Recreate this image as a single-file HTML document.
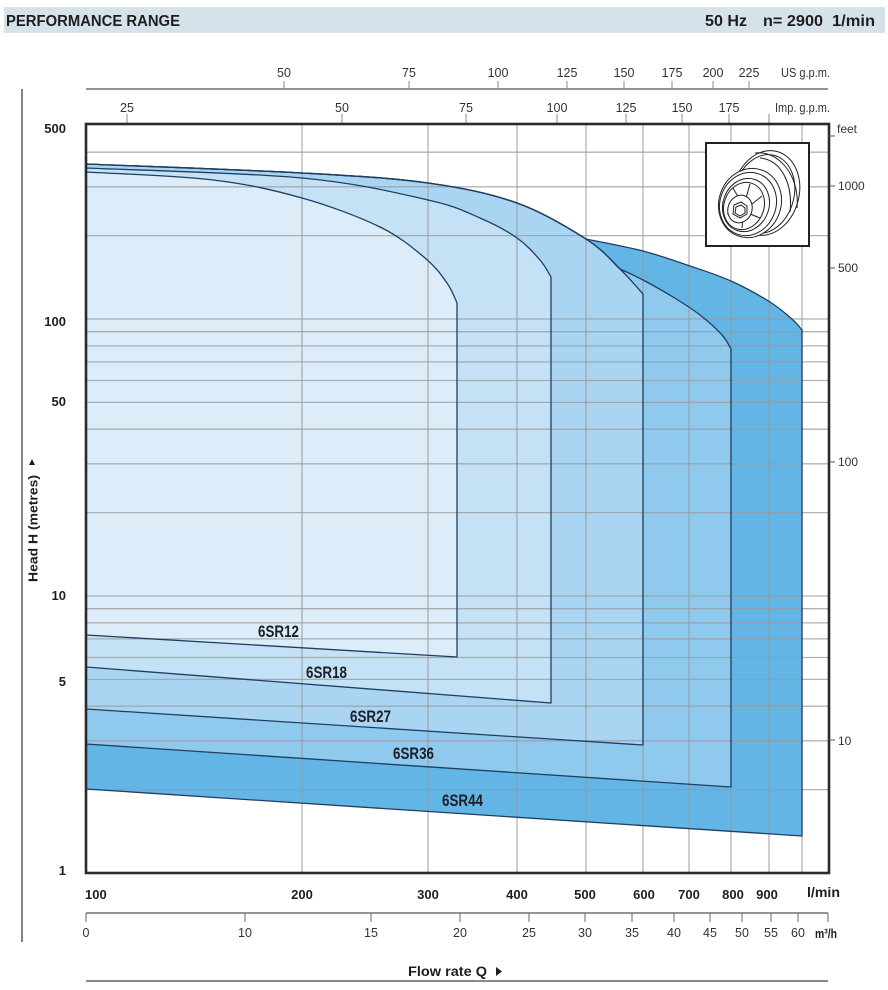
<!DOCTYPE html>
<html><head><meta charset="utf-8"><style>
html,body{margin:0;padding:0;background:#fff;}
svg{display:block;font-family:"Liberation Sans",Arial,sans-serif;}
</style></head><body>
<svg width="888" height="990" viewBox="0 0 888 990" xmlns="http://www.w3.org/2000/svg">
<defs>
<path id="p44" d="M86,164 C122,165.5 245,169.8 302,173 C359,176.2 392.2,178 428,183 C463.8,188 490.7,193.7 517,203 C543.3,212.3 568.8,228 586,239 C595.5,241 625.7,246.5 643,251 C660.3,255.5 675.3,261 690,266 C704.7,271 717.7,275 731,281 C744.3,287 759.7,295.5 770,302 C780.3,308.5 787.7,315.3 793,320 C798.3,324.7 800.5,328.3 802,330 L802,836 L86,789 Z"/>
<path id="p36" d="M86,164 C122,165.5 245,169.8 302,173 C359,176.2 392.2,178 428,183 C463.8,188 490.7,193.7 517,203 C543.3,212.3 568.8,228 586,239 C603.2,250 610.5,259.8 620,269 C623.8,270.8 634.2,275.3 643,280 C651.8,284.7 663.5,291.2 673,297 C682.5,302.8 691.8,308.7 700,315 C708.2,321.3 716.8,329.3 722,335 C727.2,340.7 729.5,346.7 731,349 L731,787 L86,744 Z"/>
<path id="p27" d="M86,164 C122,165.5 245,169.8 302,173 C359,176.2 392.2,178 428,183 C463.8,188 490.7,193.7 517,203 C543.3,212.3 568.8,228 586,239 C603.2,250 610.5,259.8 620,269 C629.5,278.2 639.2,289.8 643,294 L643,745 L86,709 Z"/>
<path id="p18" d="M86,168 C122,169.7 245,172.7 302,178 C359,183.3 398.3,193.3 428,200 C457.7,206.7 465.2,211.7 480,218 C494.8,224.3 507,231 517,238 C527,245 534.3,253.5 540,260 C545.7,266.5 549.2,274.2 551,277 L551,703 L86,667 Z"/>
<path id="p12" d="M86,172 C107.2,173.3 177,175.7 213,180 C249,184.3 274.2,190.2 302,198 C329.8,205.8 359.5,217 380,227 C400.5,237 413.8,248.7 425,258 C436.2,267.3 441.7,275.5 447,283 C452.3,290.5 455.5,299.7 457,303 L457,657 L86,635 Z"/>
</defs>

<rect width="888" height="990" fill="#fff"/>

<!-- header -->
<rect x="4" y="7" width="881" height="26" fill="#d5e2ea"/>
<g fill="#1e1e1e" font-weight="bold" font-size="15.5">
<text x="6" y="26" textLength="174" lengthAdjust="spacingAndGlyphs">PERFORMANCE RANGE</text>
<text x="705" y="26" textLength="42" lengthAdjust="spacingAndGlyphs">50 Hz</text>
<text x="763" y="26" textLength="60" lengthAdjust="spacingAndGlyphs">n= 2900</text>
<text x="832" y="26" textLength="43" lengthAdjust="spacingAndGlyphs">1/min</text>
</g>

<!-- left long line -->
<line x1="22" y1="89" x2="22" y2="942" stroke="#333" stroke-width="1.2"/>

<!-- US gpm axis -->
<line x1="86" y1="89" x2="828" y2="89" stroke="#555" stroke-width="1.3"/>
<g stroke="#888" stroke-width="1">
<line x1="284" y1="81" x2="284" y2="89"/><line x1="409" y1="81" x2="409" y2="89"/>
<line x1="498" y1="81" x2="498" y2="89"/><line x1="567" y1="81" x2="567" y2="89"/>
<line x1="624" y1="81" x2="624" y2="89"/><line x1="672" y1="81" x2="672" y2="89"/>
<line x1="713" y1="81" x2="713" y2="89"/><line x1="749" y1="81" x2="749" y2="89"/>
</g>
<g fill="#333" font-size="12.5" text-anchor="middle">
<text x="284" y="77">50</text><text x="409" y="77">75</text><text x="498" y="77">100</text>
<text x="567" y="77">125</text><text x="624" y="77">150</text><text x="672" y="77">175</text>
<text x="713" y="77">200</text><text x="749" y="77">225</text>
</g>
<text x="781" y="77" font-size="12.5" fill="#333" textLength="49" lengthAdjust="spacingAndGlyphs">US g.p.m.</text>

<!-- Imp gpm axis -->
<g stroke="#888" stroke-width="1">
<line x1="127" y1="114" x2="127" y2="124"/><line x1="342" y1="114" x2="342" y2="124"/>
<line x1="466" y1="114" x2="466" y2="124"/><line x1="557" y1="114" x2="557" y2="124"/>
<line x1="626" y1="114" x2="626" y2="124"/><line x1="682" y1="114" x2="682" y2="124"/>
<line x1="729" y1="114" x2="729" y2="124"/><line x1="769" y1="114" x2="769" y2="124"/>
</g>
<g fill="#333" font-size="12.5" text-anchor="middle">
<text x="127" y="112">25</text><text x="342" y="112">50</text><text x="466" y="112">75</text>
<text x="557" y="112">100</text><text x="626" y="112">125</text><text x="682" y="112">150</text>
<text x="729" y="112">175</text>
</g>
<text x="775" y="112" font-size="12.5" fill="#333" textLength="55" lengthAdjust="spacingAndGlyphs">Imp. g.p.m.</text>

<!-- fills -->
<use href="#p44" fill="#63b5e6"/>
<use href="#p36" fill="#8fcaee"/>
<use href="#p27" fill="#a9d5f2"/>
<use href="#p18" fill="#c4e1f6"/>
<use href="#p12" fill="#dcecf8"/>

<!-- grid -->
<g stroke="#999" stroke-opacity="0.75" stroke-width="1.3">
<line x1="86" y1="152.2" x2="829" y2="152.2"/><line x1="86" y1="186.8" x2="829" y2="186.8"/>
<line x1="86" y1="235.6" x2="829" y2="235.6"/><line x1="86" y1="319" x2="829" y2="319"/>
<line x1="86" y1="331.7" x2="829" y2="331.7"/><line x1="86" y1="345.9" x2="829" y2="345.9"/>
<line x1="86" y1="361.9" x2="829" y2="361.9"/><line x1="86" y1="380.5" x2="829" y2="380.5"/>
<line x1="86" y1="402.4" x2="829" y2="402.4"/><line x1="86" y1="429.2" x2="829" y2="429.2"/>
<line x1="86" y1="463.8" x2="829" y2="463.8"/><line x1="86" y1="512.6" x2="829" y2="512.6"/>
<line x1="86" y1="596" x2="829" y2="596"/><line x1="86" y1="608.7" x2="829" y2="608.7"/>
<line x1="86" y1="622.9" x2="829" y2="622.9"/><line x1="86" y1="638.9" x2="829" y2="638.9"/>
<line x1="86" y1="657.5" x2="829" y2="657.5"/><line x1="86" y1="679.4" x2="829" y2="679.4"/>
<line x1="86" y1="706.2" x2="829" y2="706.2"/><line x1="86" y1="740.8" x2="829" y2="740.8"/>
<line x1="86" y1="789.6" x2="829" y2="789.6"/>
<line x1="302" y1="124" x2="302" y2="873"/><line x1="428" y1="124" x2="428" y2="873"/>
<line x1="517" y1="124" x2="517" y2="873"/><line x1="586" y1="124" x2="586" y2="873"/>
<line x1="643" y1="124" x2="643" y2="873"/><line x1="689" y1="124" x2="689" y2="873"/>
<line x1="731" y1="124" x2="731" y2="873"/><line x1="769" y1="124" x2="769" y2="873"/>
<line x1="802" y1="124" x2="802" y2="873"/>
</g>

<!-- curve strokes -->
<g fill="none" stroke="#1f3f62" stroke-width="1.3" stroke-linejoin="round">
<use href="#p44"/><use href="#p36"/><use href="#p27"/><use href="#p18"/><use href="#p12"/>
</g>

<!-- frame -->
<rect x="86" y="124" width="743" height="749" fill="none" stroke="#2a2a2a" stroke-width="2.6"/>

<!-- series labels -->
<g fill="#1c1f2a" font-weight="bold" font-size="16.5">
<text x="258" y="637" textLength="41" lengthAdjust="spacingAndGlyphs">6SR12</text>
<text x="306" y="678" textLength="41" lengthAdjust="spacingAndGlyphs">6SR18</text>
<text x="350" y="722" textLength="41" lengthAdjust="spacingAndGlyphs">6SR27</text>
<text x="393" y="759" textLength="41" lengthAdjust="spacingAndGlyphs">6SR36</text>
<text x="442" y="806" textLength="41" lengthAdjust="spacingAndGlyphs">6SR44</text>
</g>

<!-- impeller box -->
<rect x="706" y="143" width="103" height="103" fill="#fff" stroke="#222" stroke-width="2"/>
<g fill="#fff" stroke="#222" stroke-width="1">
<ellipse cx="766" cy="193" rx="33" ry="43" transform="rotate(15 766 193)"/>
<ellipse cx="764" cy="194" rx="30" ry="40" transform="rotate(15 764 194)"/>
<path d="M755,153 C778,150 800,175 797,208" fill="none"/>
<path d="M760,158 C782,160 793,185 790,212" fill="none"/>
<ellipse cx="750" cy="203" rx="31" ry="35" transform="rotate(20 750 203)"/>
<ellipse cx="748" cy="204" rx="28" ry="32" transform="rotate(20 748 204)"/>
<ellipse cx="746" cy="205" rx="23" ry="27" transform="rotate(20 746 205)"/>
<ellipse cx="744" cy="206" rx="20" ry="24" transform="rotate(20 744 206)"/>
<path d="M733,188 L740,200 M750,184 L746,198 M762,196 L752,204 M760,218 L750,214 M742,228 L743,218 M727,214 L734,212" fill="none"/>
<ellipse cx="740" cy="209" rx="12" ry="14" transform="rotate(20 740 209)"/>
<polygon points="734,205 741,202 747,206 747,214 740,218 733,214"/>
<polygon points="736,207 741,205 745,208 745,213 740,216 735,213"/>
</g>

<!-- right feet axis -->
<g stroke="#555" stroke-width="1">
<line x1="829" y1="136" x2="835" y2="136"/><line x1="829" y1="186" x2="835" y2="186"/>
<line x1="829" y1="268" x2="835" y2="268"/><line x1="829" y1="462" x2="835" y2="462"/>
<line x1="829" y1="740" x2="835" y2="740"/>
</g>
<g fill="#333" font-size="12">
<text x="837" y="133">feet</text>
<text x="838" y="190">1000</text>
<text x="838" y="272">500</text>
<text x="838" y="466">100</text>
<text x="838" y="745">10</text>
</g>

<!-- left y labels -->
<g fill="#1e1e1e" font-weight="bold" font-size="13" text-anchor="end">
<text x="66" y="133">500</text>
<text x="66" y="326">100</text>
<text x="66" y="406">50</text>
<text x="66" y="600">10</text>
<text x="66" y="686">5</text>
<text x="66" y="875">1</text>
</g>
<text transform="translate(37.5,582) rotate(-90)" fill="#1e1e1e" font-weight="bold" font-size="13" textLength="107" lengthAdjust="spacingAndGlyphs">Head H (metres)</text>
<polygon points="29,465 35,465 32,459" fill="#1e1e1e"/>

<!-- l/min labels -->
<g fill="#1e1e1e" font-weight="bold" font-size="13" text-anchor="middle">
<text x="85" y="899" text-anchor="start">100</text>
<text x="302" y="899">200</text><text x="428" y="899">300</text><text x="517" y="899">400</text>
<text x="585" y="899">500</text><text x="644" y="899">600</text><text x="689" y="899">700</text>
<text x="733" y="899">800</text><text x="767" y="899">900</text>
</g>
<text x="807" y="897" fill="#1e1e1e" font-weight="bold" font-size="14" textLength="33" lengthAdjust="spacingAndGlyphs">l/min</text>

<!-- m3/h axis -->
<line x1="86" y1="913" x2="828" y2="913" stroke="#555" stroke-width="1.3"/>
<g stroke="#666" stroke-width="1">
<line x1="86" y1="913" x2="86" y2="922"/><line x1="245" y1="913" x2="245" y2="922"/>
<line x1="371" y1="913" x2="371" y2="922"/><line x1="460" y1="913" x2="460" y2="922"/>
<line x1="529" y1="913" x2="529" y2="922"/><line x1="585" y1="913" x2="585" y2="922"/>
<line x1="632" y1="913" x2="632" y2="922"/><line x1="674" y1="913" x2="674" y2="922"/>
<line x1="710" y1="913" x2="710" y2="922"/><line x1="742" y1="913" x2="742" y2="922"/>
<line x1="771" y1="913" x2="771" y2="922"/><line x1="798" y1="913" x2="798" y2="922"/>
<line x1="828" y1="913" x2="828" y2="922"/>
</g>
<g fill="#333" font-size="12.5" text-anchor="middle">
<text x="86" y="937">0</text><text x="245" y="937">10</text><text x="371" y="937">15</text>
<text x="460" y="937">20</text><text x="529" y="937">25</text><text x="585" y="937">30</text>
<text x="632" y="937">35</text><text x="674" y="937">40</text><text x="710" y="937">45</text>
<text x="742" y="937">50</text><text x="771" y="937">55</text><text x="798" y="937">60</text>
</g>
<text x="815" y="938" fill="#1e1e1e" font-weight="bold" font-size="13" textLength="22" lengthAdjust="spacingAndGlyphs">m³/h</text>

<!-- flow rate -->
<text x="408" y="976" fill="#1e1e1e" font-weight="bold" font-size="14" textLength="79" lengthAdjust="spacingAndGlyphs">Flow rate Q</text>
<polygon points="496,967 502,971.5 496,976" fill="#1e1e1e"/>
<line x1="86" y1="981" x2="828" y2="981" stroke="#444" stroke-width="1.3"/>
</svg>
</body></html>
